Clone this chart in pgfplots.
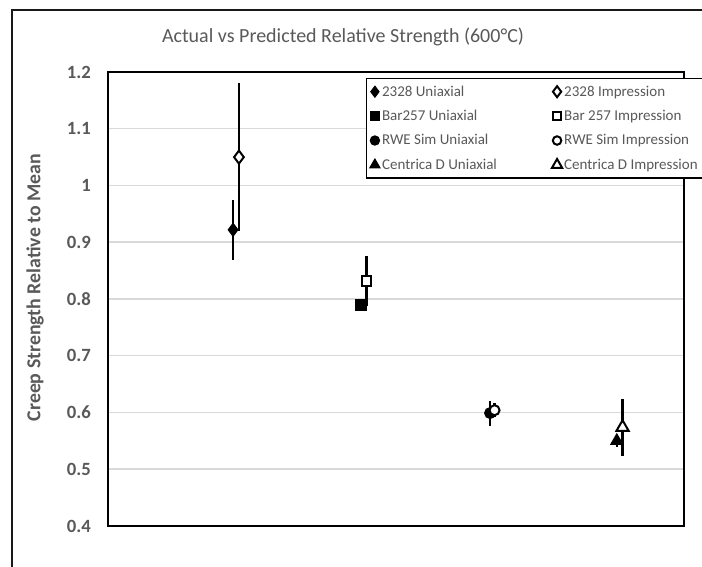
\documentclass[border=0pt]{standalone}
\usepackage{pgfplots}
\pgfplotsset{compat=1.18}
\usepackage{fontspec}
\setmainfont{Carlito}
\definecolor{txt}{HTML}{595959}
\definecolor{grd}{HTML}{D9D9D9}
\begin{document}
\begin{tikzpicture}[x=1pt,y=1pt]
\draw[line width=2pt, black!90] (12,-30) rectangle (740,557);
\node[text=txt, font=\fontsize{20}{24}\selectfont] at (343,530) {Actual vs Predicted Relative Strength (600°C)};
\begin{axis}[
  at={(108pt,41pt)}, anchor=south west,
  scale only axis, width=576pt, height=454pt,
  xmin=0, xmax=4.5, ymin=0.4, ymax=1.2,
  xtick=\empty,
  ytick={0.4,0.5,0.6,0.7,0.8,0.9,1,1.1,1.2},
  yticklabels={0.4,0.5,0.6,0.7,0.8,0.9,1,1.1,1.2},
  major tick length=0pt,
  ymajorgrids, grid style={line width=1.5pt, grd},
  axis line style={line width=1.6pt, black},
  yticklabel style={font=\bfseries\fontsize{18.7}{22}\selectfont, text=txt, inner sep=0pt, xshift=-17pt},
  ylabel={Creep Strength Relative to Mean},
  every axis y label/.style={at={(axis description cs:-0.1267,0.525)}, rotate=90, anchor=center,
     font=\bfseries\fontsize{19.8}{22}\selectfont, text=txt},
  legend columns=2,
  legend cell align=left,
  legend style={at={(axis description cs:0.4479,0.9868)}, anchor=north west,
    draw=black, line width=1.5pt, fill=white, text=txt,
    font=\fontsize{15}{18}\selectfont, row sep=8.5pt, inner xsep=3pt, inner ysep=5pt,
    /tikz/every even column/.append style={column sep=53pt}},
  legend image post style={scale=0.85, line width=1.5pt},
  error bars/y dir=both, error bars/y explicit,
  error bars/error mark=none,
  error bars/error bar style={line width=2.5pt, black},
]
% 2328 Uniaxial
\addplot[only marks, black, mark=diamond*, mark size=6.5pt, mark options={fill=black, line width=1pt}] coordinates {(0.977,0.922) +- (0,0.053)};
\addlegendentry{2328 Uniaxial}
% 2328 Impression
\addplot[only marks, black, mark=diamond*, mark size=6.5pt, mark options={fill=white, line width=2pt}] coordinates {(1.023,1.050) +- (0,0.13)};
\addlegendentry{2328 Impression}
% Bar257 Uniaxial
\addplot[only marks, black, mark=square*, mark size=5.5pt, mark options={fill=black, line width=1pt}] coordinates {(1.98,0.789) +- (0,0.008)};
\addlegendentry{Bar257 Uniaxial}
% Bar 257 Impression
\addplot[only marks, black, mark=square*, mark size=4.8pt, mark options={fill=white, line width=2pt}] coordinates {(2.02,0.832) +- (0,0.044)};
\addlegendentry{Bar 257 Impression}
% RWE Sim Uniaxial
\addplot[only marks, black, mark=*, mark size=5.5pt, mark options={fill=black, line width=1pt}] coordinates {(2.985,0.599) +- (0,0.022)};
\addlegendentry{RWE Sim Uniaxial}
% RWE Sim Impression
\addplot[only marks, black, mark=*, mark size=5pt, mark options={fill=white, line width=2pt}] coordinates {(3.02,0.604) +- (0,0.012)};
\addlegendentry{RWE Sim Impression}
% Centrica D Uniaxial
\addplot[only marks, black, mark=triangle*, mark size=7pt, mark options={fill=black, line width=1pt}] coordinates {(3.975,0.550) +- (0,0.01)};
\addlegendentry{Centrica D Uniaxial}
% Centrica D Impression
\addplot[only marks, black, mark=triangle*, mark size=7pt, mark options={fill=white, line width=2pt}] coordinates {(4.02,0.574) +- (0,0.05)};
\addlegendentry{Centrica D Impression}
\end{axis}
\pgfresetboundingbox
\path[use as bounding box] (0,0) rectangle (702,567);
\end{tikzpicture}
\end{document}
